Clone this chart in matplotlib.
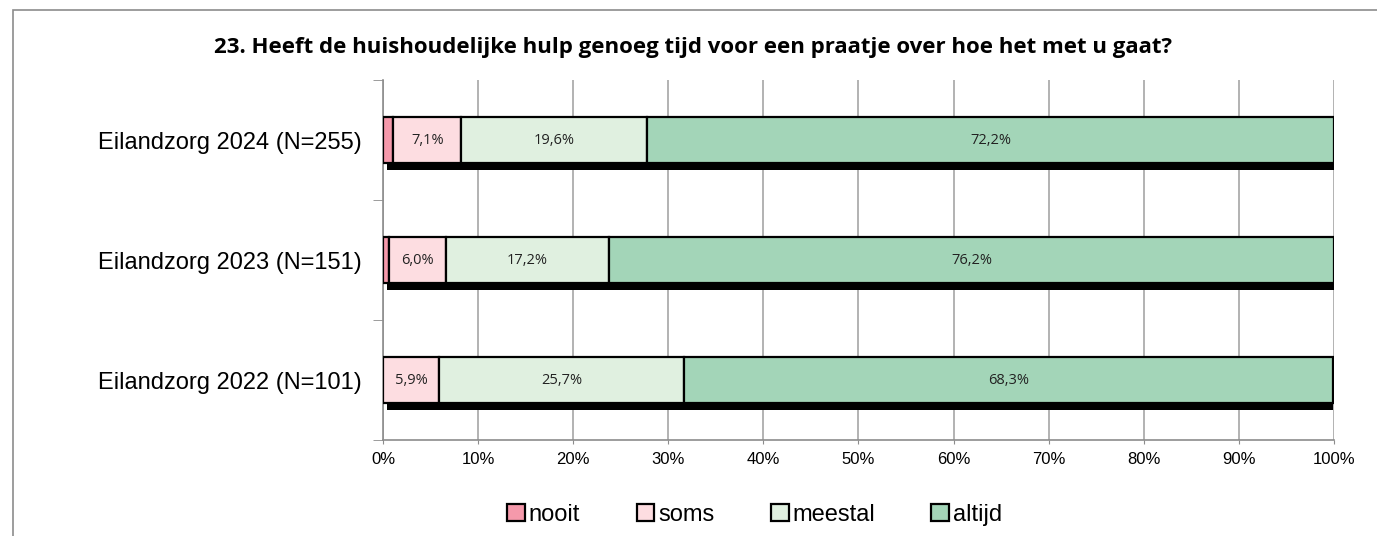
import matplotlib.pyplot as plt
import matplotlib.patches as mpatches
from matplotlib.ticker import FixedLocator

# Gegevens
categorieen = ["Eilandzorg 2022 (N=101)", "Eilandzorg 2023 (N=151)", "Eilandzorg 2024 (N=255)"]
nooit = [0.0, 0.6, 1.1]
soms = [5.9, 6.0, 7.1]
meestal = [25.7, 17.2, 19.6]
altijd = [68.3, 76.2, 72.2]
reeksen = ["nooit", "soms", "meestal", "altijd"]
kleuren = ["#F599AB", "#FDDDE1", "#E0F0E0", "#A3D5B8"]
titel = "23. Heeft de huishoudelijke hulp genoeg tijd voor een praatje over hoe het met u gaat?"

fig = plt.figure(figsize=(13.77, 5.36), dpi=100)
ax = fig.add_axes([383 / 1377, 1 - 440 / 536, (1334 - 383) / 1377, 360 / 536])

# Kader rond de figuur
fig.patches.append(mpatches.Rectangle((13 / 1377, -0.1), 1.2, 1 - 10 / 536 + 0.1,
                                      transform=fig.transFigure, fill=False,
                                      edgecolor="#8c8c8c", linewidth=1.2, zorder=0))

y = list(range(len(categorieen)))
hoogte = 0.39
totalen = [a + b + c + d for a, b, c, d in zip(nooit, soms, meestal, altijd)]

# Schaduw onder elke balk
ax.barh([v - 0.055 for v in y], [t - 0.4 for t in totalen], left=0.4, height=hoogte,
        color="black", zorder=2)

links = [0.0] * len(y)
for naam, waarden, kleur in zip(reeksen, [nooit, soms, meestal, altijd], kleuren):
    ax.barh(y, waarden, left=links, height=hoogte, color=kleur, edgecolor="black",
            linewidth=1.6, label=naam, zorder=3)
    if naam != "nooit":
        for yi, l, w in zip(y, links, waarden):
            ax.text(l + w / 2, yi, f"{w:.1f}%".replace(".", ","), ha="center", va="center",
                    fontsize=10.5, family="Open Sans", color="#222222", zorder=4)
    links = [l + w for l, w in zip(links, waarden)]

ax.set_xlim(0, 100)
ax.set_ylim(-0.5, 2.5)
ax.set_xticks(range(0, 101, 10))
ax.set_xticklabels([f"{v}%" for v in range(0, 101, 10)], fontsize=12, family="Liberation Sans")
ax.set_yticks(y)
ax.set_yticklabels(categorieen, fontsize=17, family="Liberation Sans")
ax.yaxis.set_minor_locator(FixedLocator([-0.5, 0.5, 1.5, 2.5]))
ax.tick_params(axis="y", which="major", length=0, pad=15)
ax.tick_params(axis="y", which="minor", length=7, color="#8c8c8c")
ax.tick_params(axis="x", length=3, color="#8c8c8c", pad=6)

ax.grid(axis="x", color="#a6a6a6", linewidth=1.2, zorder=0)
ax.set_axisbelow(True)
for s in ["top", "right"]:
    ax.spines[s].set_visible(False)
for s in ["left", "bottom"]:
    ax.spines[s].set_color("#8c8c8c")
    ax.spines[s].set_linewidth(1.2)

fig.text(0.503, 1 - 47 / 536, titel, ha="center", va="center", fontsize=16,
         fontweight="bold", family="Open Sans")

handles = [mpatches.Patch(facecolor=k, edgecolor="black", linewidth=1.6, label=n)
           for n, k in zip(reeksen, kleuren)]
fig.legend(handles=handles, loc="center", bbox_to_anchor=(0.548, 1 - 515 / 536), ncol=4,
           frameon=False, prop={"family": "Liberation Sans", "size": 17},
           handlelength=0.75, handleheight=0.75, handletextpad=0.15, columnspacing=2.4)

fig.savefig("out.png", dpi=100)
